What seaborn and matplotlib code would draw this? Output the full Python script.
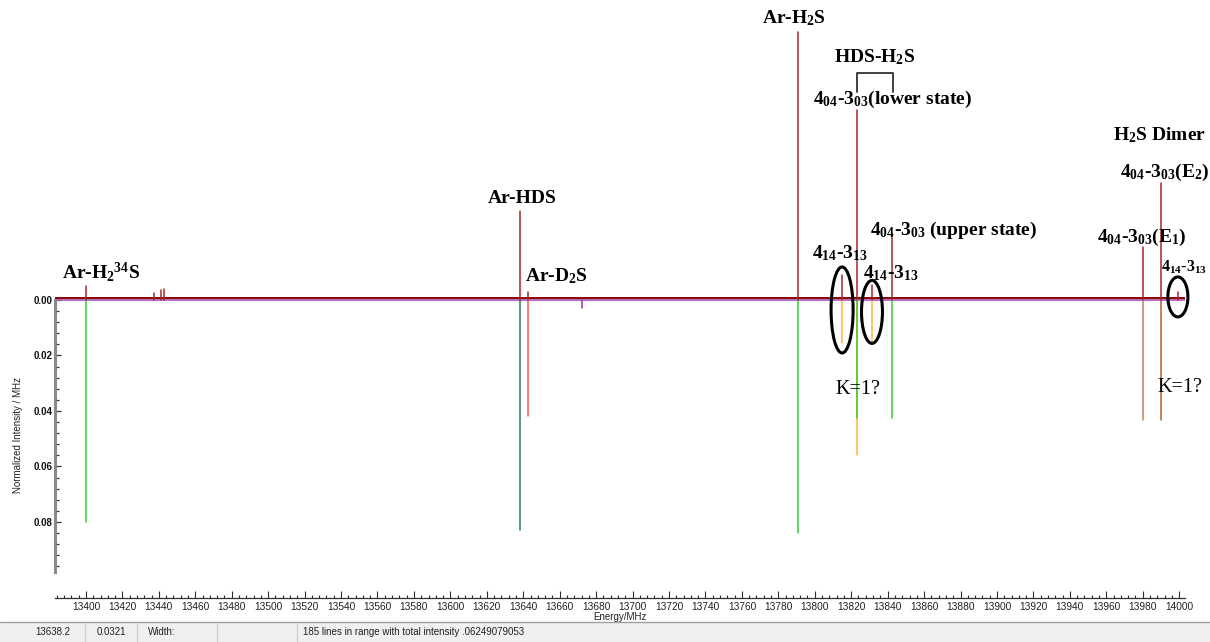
import numpy as np
import pandas as pd
import seaborn as sns
import matplotlib
matplotlib.use("Agg")
import matplotlib.pyplot as plt
from matplotlib.patches import Ellipse, Rectangle
from matplotlib.lines import Line2D
from matplotlib.ticker import MultipleLocator, FixedLocator

# ---------------- data ----------------
# observed spectrum lines (MHz, normalized intensity, drawn upward)
obs_freq = [13400.0, 13437.3, 13441.2, 13442.8, 13638.2, 13642.6, 13790.8,
            13815.0, 13823.2, 13831.4, 13842.4, 13980.1, 13990.0, 13999.3]
obs_int = [0.0050, 0.0026, 0.0036, 0.0040, 0.0321, 0.0030, 0.0966,
           0.0090, 0.0685, 0.0054, 0.0240, 0.0190, 0.0420, 0.0030]

# predicted lines (drawn downward), grouped by series
pred_series = ["Ar complexes", "Ar-HDS", "Ar-D2S", "K=1", "minor", "E1", "E2"]
pred_freq = {
    "Ar complexes": [13400.0, 13790.8, 13823.2, 13842.4],
    "Ar-HDS": [13638.2],
    "Ar-D2S": [13642.6],
    "K=1": [13815.0, 13823.2, 13831.4],
    "minor": [13672.2],
    "E1": [13980.1],
    "E2": [13990.0],
}
pred_int = {
    "Ar complexes": [0.0800, 0.0840, 0.0425, 0.0425],
    "Ar-HDS": [0.0829],
    "Ar-D2S": [0.0418],
    "K=1": [0.0155, 0.0560, 0.0150],
    "minor": [0.0030],
    "E1": [0.0432],
    "E2": [0.0432],
}

x_ticks = list(range(13400, 14001, 20))
y_ticks = [0.00, 0.02, 0.04, 0.06, 0.08]
y_label = "Normalized Intensity / MHz"
x_label = "Energy/MHz"
status_cells = ["13638.2", "0.0321", "Width:", "185 lines in range with total intensity .06249079053"]

# ---------------- styling ----------------
sns.set_style("white")
plt.rcParams["font.family"] = ["Liberation Sans", "DejaVu Sans"]
plt.rcParams["mathtext.fontset"] = "custom"
plt.rcParams["mathtext.rm"] = "Liberation Serif:bold"
plt.rcParams["mathtext.it"] = "Liberation Serif:bold"
plt.rcParams["mathtext.bf"] = "Liberation Serif:bold"
plt.rcParams["mathtext.default"] = "rm"

W, H = 1210, 642
fig = plt.figure(figsize=(W / 100, H / 100), dpi=100)
fig.patch.set_facecolor("white")

left_px, right_px, bottom_px = 55, 1185, 598
ax = fig.add_axes([left_px / W, (H - bottom_px) / H, (right_px - left_px) / W, bottom_px / H])
ax.set_facecolor("white")
ax.set_xlim(13383.0, 14003.2)
ax.set_ylim(-0.1074, 0.1081)

# baseline (zero line + noise band)
ax.axhline(0, color="#b050b0", lw=1.2, zorder=2)
ax.axhspan(0.0002, 0.0011, color="#8b0a0a", lw=0, zorder=3)

pal = {
    "Ar complexes": "#33cc33",
    "Ar-HDS": "#2b7a50",
    "Ar-D2S": "#ff5555",
    "K=1": "#ffb347",
    "minor": "#a030a0",
    "E1": "#c8825a",
    "E2": "#b8602a",
}

# predicted sticks (downward)
rows = []
uid = 0
order = ["K=1", "Ar complexes", "Ar-HDS", "Ar-D2S", "minor", "E1", "E2"]
for s in order:
    for f, v in zip(pred_freq[s], pred_int[s]):
        rows.append({"freq": f, "y": 0.0, "stick": uid, "series": s})
        rows.append({"freq": f, "y": -v, "stick": uid, "series": s})
        uid += 1
pred_df = pd.DataFrame(rows)
for s in order:
    sub = pred_df[pred_df["series"] == s]
    sns.lineplot(data=sub, x="freq", y="y", units="stick", estimator=None,
                 sort=False, color=pal[s], lw=1.1, ax=ax, legend=False, zorder=4)

# observed sticks (upward)
orows = []
for i, (f, v) in enumerate(zip(obs_freq, obs_int)):
    orows.append({"freq": f, "y": 0.0, "stick": i})
    orows.append({"freq": f, "y": v, "stick": i})
obs_df = pd.DataFrame(orows)
sns.lineplot(data=obs_df, x="freq", y="y", units="stick", estimator=None,
             sort=False, color="#a02828", lw=1.1, ax=ax, legend=False, zorder=5)

# axes styling
for sp in ["top", "right"]:
    ax.spines[sp].set_visible(False)
ax.spines["left"].set_color("#8a8a8a")
ax.spines["left"].set_linewidth(2.2)
ax.spines["left"].set_bounds(-0.098, 0)
ax.spines["bottom"].set_color("#303030")
ax.spines["bottom"].set_linewidth(0.9)

ax.xaxis.set_major_locator(FixedLocator(x_ticks))
ax.xaxis.set_minor_locator(MultipleLocator(4))
ax.set_xticklabels([str(t) for t in x_ticks])
ax.yaxis.set_major_locator(FixedLocator([-t for t in y_ticks]))
ax.yaxis.set_minor_locator(FixedLocator([-0.004 * i for i in range(25)]))
ax.set_yticklabels([f"{t:.2f}" for t in y_ticks], fontweight="bold")
ax.tick_params(axis="x", which="major", direction="in", length=5, width=0.8,
               color="#303030", labelsize=7.3, pad=3, labelcolor="#202020", bottom=True)
ax.tick_params(axis="x", which="minor", direction="in", length=2.5, width=0.8,
               color="#303030", bottom=True)
ax.tick_params(axis="y", which="major", direction="in", length=4.5, width=0.9,
               color="#303030", labelsize=7, pad=2, labelcolor="#101010", left=True)
ax.tick_params(axis="y", which="minor", direction="in", length=3, width=0.9,
               color="#303030", left=True)
ax.set_xlabel(x_label, fontsize=7, labelpad=0, color="#202020")
ax.set_ylabel("")
ax.grid(False)

fig.text(18 / W, 1 - 435 / H, y_label, rotation=90, fontsize=7,
         ha="center", va="center", color="#202020")

# annotations
tk = dict(fontsize=14, fontweight="bold", family="Liberation Serif",
          ha="left", va="center", color="black", zorder=10, clip_on=False)
ax.text(13386.8, 0.0101, r"Ar-H$_{2}$$^{34}$S", **tk)
ax.text(13620.6, 0.0364, "Ar-HDS", **tk)
ax.text(13641.0, 0.0086, r"Ar-D$_{2}$S", **tk)
ax.text(13771.0, 0.1016, r"Ar-H$_{2}$S", **tk)
ax.text(13810.6, 0.0876, r"HDS-H$_{2}$S", **tk)
ax.text(13799.0, 0.0721, r"4$_{04}$-3$_{03}$(lower state)", **tk)
ax.text(13830.3, 0.0252, r"4$_{04}$-3$_{03}$ (upper state)", **tk)
ax.text(13798.5, 0.0169, r"4$_{14}$-3$_{13}$", **tk)
ax.text(13826.5, 0.0097, r"4$_{14}$-3$_{13}$", **tk)
ax.text(13963.7, 0.0595, r"H$_{2}$S Dimer", **tk)
ax.text(13967.5, 0.0458, r"4$_{04}$-3$_{03}$(E$_{2}$)", **tk)
ax.text(13954.9, 0.0227, r"4$_{04}$-3$_{03}$(E$_{1}$)", **tk)
tk3 = dict(tk)
tk3["fontsize"] = 11.5
ax.text(13990.3, 0.0119, r"4$_{14}$-3$_{13}$", **tk3)
tk2 = dict(tk)
tk2["fontweight"] = "normal"
tk2["fontsize"] = 14.5
ax.text(13811.1, -0.0324, "K=1?", **tk2)
ax.text(13987.8, -0.0314, "K=1?", **tk2)

# bracket for HDS-H2S
ax.add_line(Line2D([13823.2, 13823.2, 13843.0, 13843.0], [0.0750, 0.0818, 0.0818, 0.0750],
                   color="#333333", lw=1.3, zorder=10))

# ellipses
for (cx, cy, w, h) in [(13815.0, -0.0036, 12.1, 0.0310),
                       (13831.4, -0.0043, 11.5, 0.0227),
                       (13999.3, 0.0011, 11.0, 0.0144)]:
    ax.add_patch(Ellipse((cx, cy), w, h, fill=False, ec="black", lw=2.2, zorder=11,
                         clip_on=False))

# status bar
fig.patches.append(Rectangle((0, 0), 1, 20 / H, transform=fig.transFigure,
                             facecolor="#f0f0f0", edgecolor="none", zorder=0))
fig.add_artist(Line2D([0, 1], [20.5 / H, 20.5 / H], transform=fig.transFigure,
                      color="#a0a0a0", lw=1))
for xs in [85, 137, 217, 297]:
    fig.add_artist(Line2D([xs / W, xs / W], [1 / H, 18 / H], transform=fig.transFigure,
                          color="#d0d0d0", lw=1))
for xs, t in zip([35, 97, 148, 303], status_cells):
    fig.text(xs / W, 10 / H, t, fontsize=7, ha="left", va="center", color="#202020")

fig.savefig("out.png", dpi=100, facecolor="white")
